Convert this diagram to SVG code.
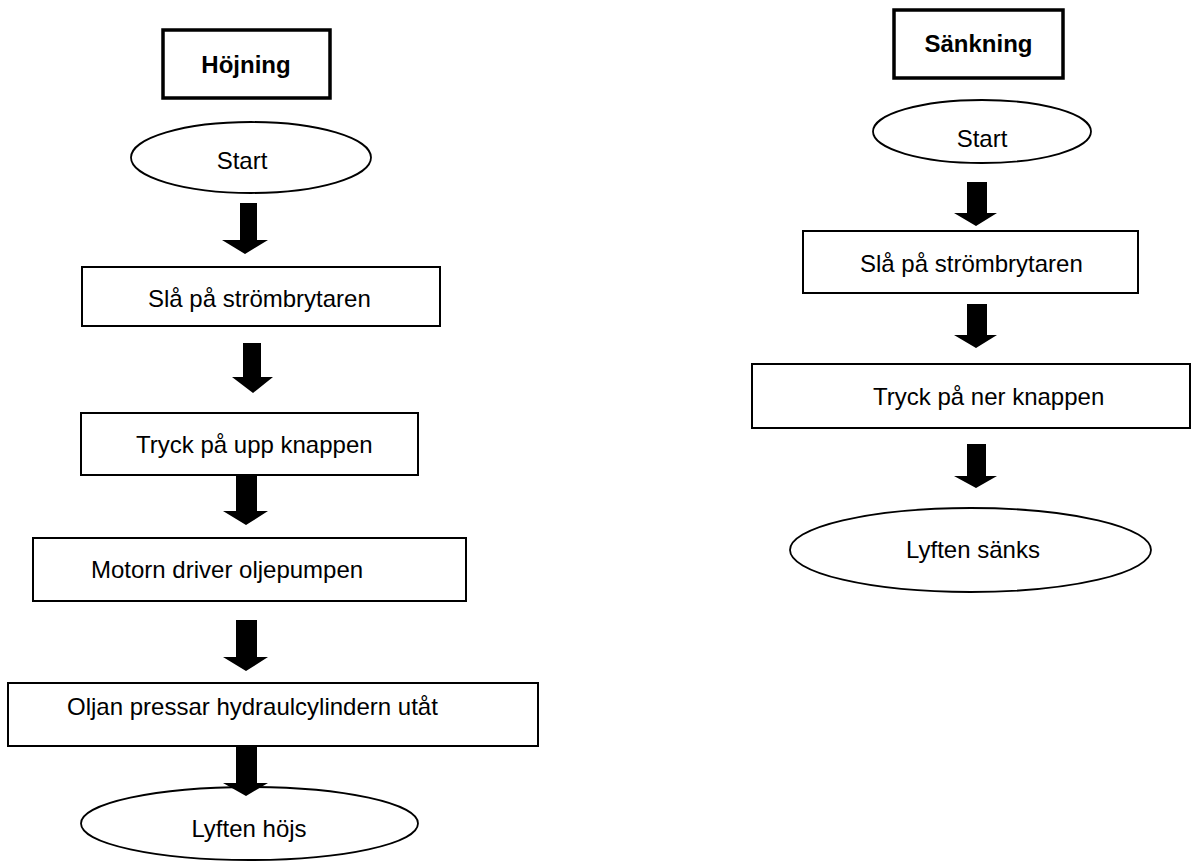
<svg xmlns="http://www.w3.org/2000/svg" width="1197" height="861" viewBox="0 0 1197 861">
<style>
  .t { font-family: "Liberation Sans", Arial, sans-serif; font-size: 24px; fill: #000; }
  .tb { font-family: "Liberation Sans", Arial, sans-serif; font-size: 24px; font-weight: bold; fill: #000; }
  .box { fill: #fff; stroke: #000; stroke-width: 2; }
  .title { fill: #fff; stroke: #000; stroke-width: 3.5; }
  .oval { fill: #fff; stroke: #000; stroke-width: 1.8; }
  .arr { fill: #000; stroke: none; }
</style>
<rect width="1197" height="861" fill="#fff"/>
<g id="nodes-left">
  <g id="hojning"><rect class="title" x="163" y="30" width="167" height="68"/><text class="tb" x="246" y="73" text-anchor="middle">Höjning</text></g>
  <g id="start-l"><ellipse class="oval" cx="251" cy="157.5" rx="120" ry="35.5"/><text class="t" x="242" y="169" text-anchor="middle">Start</text></g>
  <g id="sla-l"><rect class="box" x="82" y="267" width="358" height="59"/><text class="t" x="148" y="307">Slå på strömbrytaren</text></g>
  <g id="tryck-upp"><rect class="box" x="81" y="413" width="337" height="62"/><text class="t" x="136" y="453">Tryck på upp knappen</text></g>
  <g id="motorn"><rect class="box" x="33" y="538" width="433" height="63"/><text class="t" x="91" y="578">Motorn driver oljepumpen</text></g>
  <g id="oljan"><rect class="box" x="8" y="683" width="530" height="63"/><text class="t" x="67" y="715">Oljan pressar hydraulcylindern utåt</text></g>
  <g id="lyften-hojs"><ellipse class="oval" cx="249.5" cy="823.5" rx="168.5" ry="36.5"/><text class="t" x="249" y="837" text-anchor="middle">Lyften höjs</text></g>
</g>
<g id="nodes-right">
  <g id="sankning"><rect class="title" x="894" y="10" width="169" height="68"/><text class="tb" x="978.5" y="52" text-anchor="middle">Sänkning</text></g>
  <g id="start-r"><ellipse class="oval" cx="982" cy="131.5" rx="109" ry="31.5"/><text class="t" x="982" y="147" text-anchor="middle">Start</text></g>
  <g id="sla-r"><rect class="box" x="803" y="231" width="335" height="62"/><text class="t" x="860" y="272">Slå på strömbrytaren</text></g>
  <g id="tryck-ner"><rect class="box" x="752" y="364" width="438" height="64"/><text class="t" x="873" y="405">Tryck på ner knappen</text></g>
  <g id="lyften-sanks"><ellipse class="oval" cx="970.5" cy="550" rx="180.5" ry="42"/><text class="t" x="973" y="558" text-anchor="middle">Lyften sänks</text></g>
</g>
<g id="connectors">
  <path class="arr" d="M240,203 H257 V240 H268 L245,254 L222,240 H240 Z"/>
  <path class="arr" d="M243,343 H261 V377 H273 L253,393 L232,377 H243 Z"/>
  <path class="arr" d="M236,475 H257 V511 H268 L246,525 L223,511 H236 Z"/>
  <path class="arr" d="M236,620 H257 V657 H268 L246,671 L223,657 H236 Z"/>
  <path class="arr" d="M236,746 H257 V783 H268 L246,796 L223,783 H236 Z"/>
  <path class="arr" d="M967,182 H987 V213 H997 L976,226 L954,213 H967 Z"/>
  <path class="arr" d="M967,304 H987 V335 H997 L976,348 L954,335 H967 Z"/>
  <path class="arr" d="M967,444 H986 V476 H997 L976,488 L954,476 H967 Z"/>
</g>
</svg>
